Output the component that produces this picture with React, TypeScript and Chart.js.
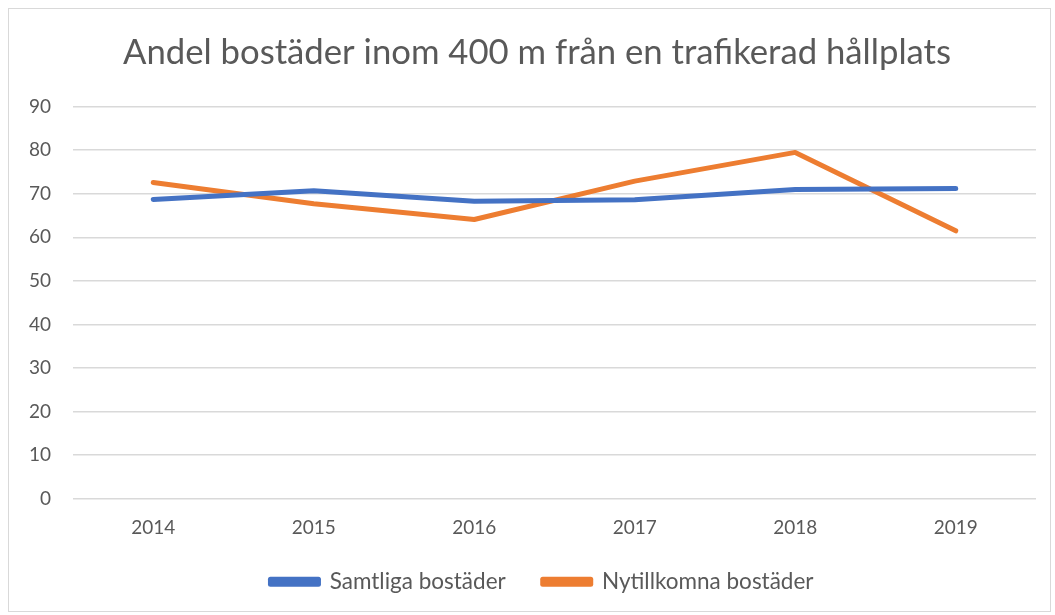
import React, { useEffect, useRef } from "react";
import { Chart, registerables } from "chart.js";

Chart.register(...registerables);

const categories = ["2014", "2015", "2016", "2017", "2018", "2019"];
const samtliga = [68.7, 70.7, 68.3, 68.6, 71.0, 71.2];
const nytillkomna = [72.6, 67.7, 64.1, 72.9, 79.5, 61.5];
const seriesNames = ["Samtliga bostäder", "Nytillkomna bostäder"];
const titleText = "Andel bostäder inom 400 m från en trafikerad hållplats";

const FONT = "Lato, 'Open Sans', sans-serif";
const TEXT = "#595959";

const borderPlugin = {
  id: "outerBorder",
  beforeDraw(chart: any) {
    const ctx = chart.ctx;
    ctx.save();
    ctx.fillStyle = "#ffffff";
    ctx.fillRect(0, 0, chart.width, chart.height);
    ctx.strokeStyle = "#d9d9d9";
    ctx.lineWidth = 1;
    ctx.strokeRect(8.5, 8.5, chart.width - 13, chart.height - 12);
    ctx.restore();
  },
  afterLayout(chart: any) {
    const t = chart.titleBlock;
    if (t) {
      t.left += 14;
      t.right += 14;
    }
    const l = chart.legend;
    if (l) {
      l.left += 19;
      l.right += 19;
      l.top -= 24;
      l.bottom -= 24;
    }
  },
};

export default function App() {
  const ref = useRef<HTMLCanvasElement | null>(null);
  useEffect(() => {
    document.body.style.margin = "0";
    const chart = new Chart(ref.current!, {
      type: "line",
      data: {
        labels: categories,
        datasets: [
          {
            label: seriesNames[0],
            data: samtliga,
            borderColor: "#4472C4",
            backgroundColor: "#4472C4",
            borderWidth: 5,
            pointRadius: 0,
            borderCapStyle: "round",
            borderJoinStyle: "round",
            tension: 0,
          },
          {
            label: seriesNames[1],
            data: nytillkomna,
            borderColor: "#ED7D31",
            backgroundColor: "#ED7D31",
            borderWidth: 5,
            pointRadius: 0,
            borderCapStyle: "round",
            borderJoinStyle: "round",
            tension: 0,
          },
        ],
      },
      options: {
        animation: false,
        responsive: false,
        maintainAspectRatio: false,
        layout: { padding: { left: 10, right: 19, top: 14, bottom: -12 } },
        plugins: {
          title: {
            display: true,
            text: titleText,
            color: TEXT,
            font: { family: FONT, size: 34.7, weight: "normal" },
            padding: { top: 18, bottom: 33 },
          },
          legend: {
            position: "bottom",
            maxHeight: 76,
            labels: {
              color: TEXT,
              font: { family: FONT, size: 22.5 },
              boxWidth: 48,
              boxHeight: 5,
              padding: 37,
            },
          },
          tooltip: { enabled: false },
        },
        scales: {
          x: {
            offset: true,
            grid: { display: false, drawTicks: false },
            border: { display: false },
            ticks: { color: TEXT, font: { family: FONT, size: 19 }, padding: 18 },
          },
          y: {
            min: 0,
            max: 90,
            afterFit: (scale: any) => {
              scale.width = 63;
            },
            ticks: { stepSize: 10, color: TEXT, font: { family: FONT, size: 19 }, padding: 22 },
            grid: { color: "#d9d9d9", lineWidth: 1.5, drawTicks: false },
            border: { display: false },
          },
        },
      },
      plugins: [borderPlugin],
    });
    return () => chart.destroy();
  }, []);
  return <canvas ref={ref} width={1055} height={615} style={{ display: "block" }} />;
}
